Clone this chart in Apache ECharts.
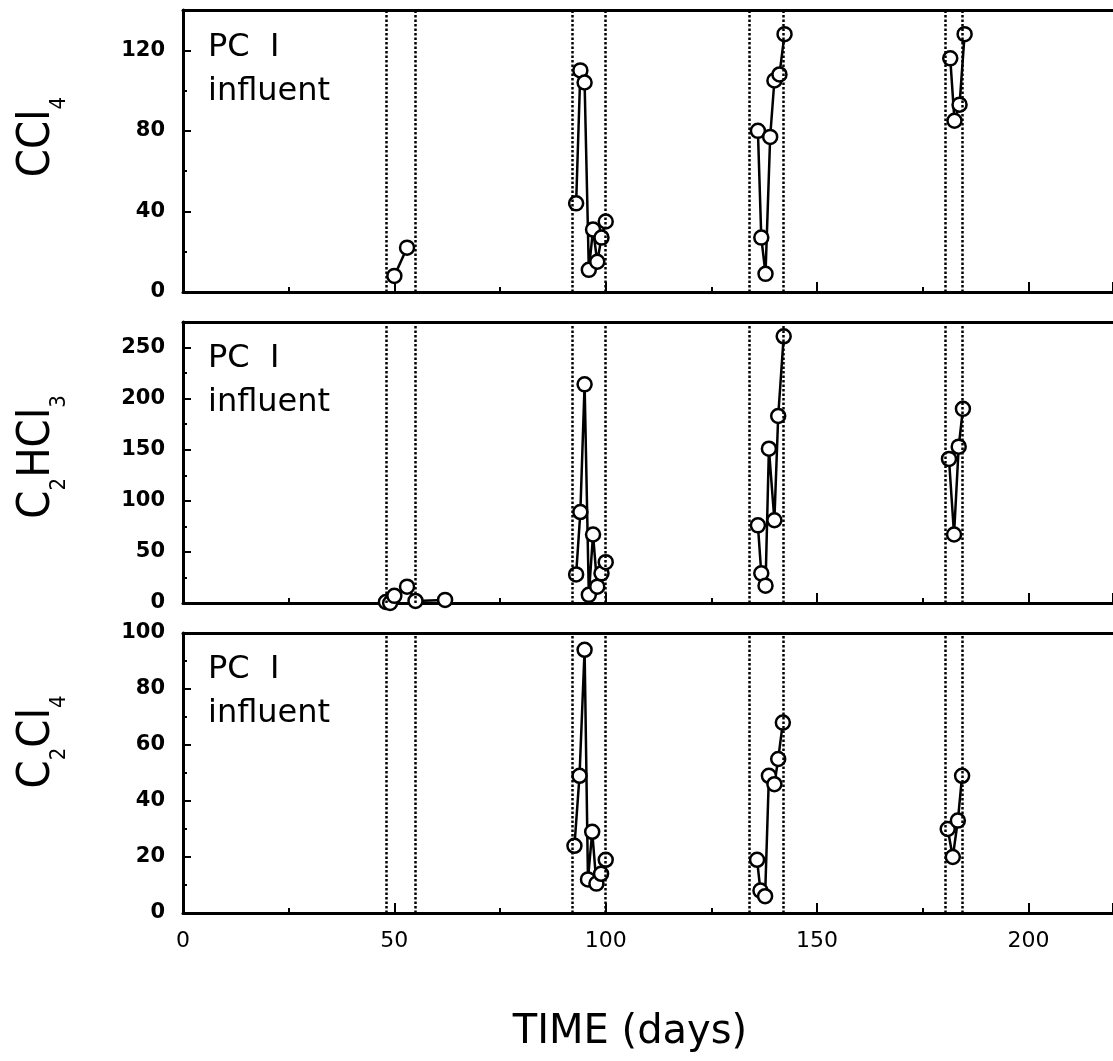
<!DOCTYPE html>
<html>
<head>
<meta charset="utf-8">
<title>PC I influent</title>
<script src="https://cdn.jsdelivr.net/npm/echarts@6/dist/echarts.min.js"></script>
<style>
html, body { margin: 0; padding: 0; background: #fff; }
#main { width: 1113px; height: 1061px; }
</style>
</head>
<body>
<div id="main"></div>
<script>
// sampling days and concentrations, null = break between sampling periods
var ccl4Days = [50, 53, null, 93, 94, 95, 96, 97, 98, 99, 100, null, 136, 136.8, 137.8, 138.9, 139.9, 141.1, 142.3, null, 181.5, 182.5, 183.7, 184.9];
var ccl4Vals = [8, 22, null, 44, 110, 104, 11, 31, 15, 27, 35, null, 80, 27, 9, 77, 105, 108, 128, null, 116, 85, 93, 128];

var tceDays = [48, 49, 50, 53, 55, 62, null, 93, 94, 95, 96, 97, 98, 99, 100, null, 136, 136.8, 137.8, 138.6, 139.9, 140.8, 142.1, null, 181.2, 182.4, 183.5, 184.5];
var tceVals = [1, 0, 7, 16, 2, 3, null, 28, 89, 214, 8, 67, 16, 29, 40, null, 76, 29, 17, 151, 81, 183, 261, null, 141, 67, 153, 190];

var pceDays = [92.6, 93.8, 95, 95.8, 96.8, 97.8, 98.9, 100, null, 135.8, 136.6, 137.7, 138.6, 139.9, 140.8, 141.9, null, 180.9, 182.1, 183.3, 184.3];
var pceVals = [24, 49, 94, 12, 29, 10.5, 14, 19, null, 19, 8, 6, 49, 46, 55, 68, null, 30, 20, 33, 49];

// dotted lines: start / end of each sampling period
var periodStart = [48, 92, 134, 180.3];
var periodEnd = [55, 100, 142, 184.3];

// axis ranges
var timeMax = 220;
var yMax = [140, 275, 100];
var yStep = [40, 50, 20];

var numFont = 'DejaVu Sans';
var narrowFont = "'Liberation Sans Narrow', 'DejaVu Sans Condensed', 'Liberation Sans', sans-serif";

function pairs(days, vals) {
	var out = [];
	for (var i = 0; i < days.length; i++) {
		if (days[i] === null) out.push('-');
		else out.push([days[i], vals[i]]);
	}
	return out;
}

var periodLines = periodStart.concat(periodEnd).map(function (d) { return { xAxis: d }; });

var chart = echarts.init(document.getElementById('main'));

var grids = [
	{ left: 183, width: 930, top: 10, height: 282 },
	{ left: 183, width: 930, top: 322, height: 281 },
	{ left: 183, width: 930, top: 633, height: 280 }
];

var xAxes = [];
var yAxes = [];
var series = [];
var panels = [pairs(ccl4Days, ccl4Vals), pairs(tceDays, tceVals), pairs(pceDays, pceVals)];

for (var g = 0; g < 3; g++) {
	// bottom axis with ticks
	xAxes.push({
		type: 'value', gridIndex: g, position: 'bottom',
		min: 0, max: timeMax, interval: 50,
		axisLine: { lineStyle: { color: '#000', width: 3 } },
		axisTick: { inside: true, length: 10, lineStyle: { color: '#000', width: 2 } },
		minorTick: { show: true, splitNumber: 2, length: 5, lineStyle: { color: '#000', width: 2 } },
		axisLabel: {
			show: g === 2, showMaxLabel: false, margin: 17,
			color: '#000', fontSize: 22, fontFamily: numFont
		},
		splitLine: { show: false }
	});
	// top frame line
	xAxes.push({
		type: 'value', gridIndex: g, position: 'top',
		min: 0, max: timeMax,
		axisLine: { lineStyle: { color: '#000', width: 3 } },
		axisTick: { show: false },
		axisLabel: { show: false },
		splitLine: { show: false }
	});
	yAxes.push({
		type: 'value', gridIndex: g,
		min: 0, max: yMax[g], interval: yStep[g],
		axisLine: { show: true, lineStyle: { color: '#000', width: 3 } },
		axisTick: { show: true, inside: true, length: 8, lineStyle: { color: '#000', width: 2 } },
		minorTick: { show: true, splitNumber: 2, length: 4, lineStyle: { color: '#000', width: 2 } },
		axisLabel: {
			showMaxLabel: g === 2, margin: 18,
			color: '#000', fontSize: 21, fontWeight: 'bold', fontFamily: numFont
		},
		splitLine: { show: false }
	});
	series.push({
		type: 'line',
		xAxisIndex: g * 2, yAxisIndex: g,
		data: panels[g],
		connectNulls: false,
		clip: false,
		symbol: 'circle',
		symbolSize: 14,
		itemStyle: { color: '#fff', borderColor: '#000', borderWidth: 2.5 },
		lineStyle: { color: '#000', width: 2.5 },
		markLine: {
			silent: true,
			symbol: ['none', 'none'],
			label: { show: false },
			lineStyle: { color: '#000', width: 2.5, type: [2.5, 2] },
			data: periodLines
		},
		z: 3
	});
}

function nameText(y, txt) {
	return {
		type: 'text', x: 37, y: y, rotation: Math.PI / 2,
		style: {
			text: txt,
			align: 'center', verticalAlign: 'middle',
			fill: '#000',
			rich: {
				m: { fontSize: 45, lineHeight: 45, verticalAlign: 'top', fontFamily: narrowFont, fill: '#000' },
				s: { fontSize: 22, lineHeight: 22, padding: [34, 0, 0, 0], verticalAlign: 'top', fontFamily: narrowFont, fill: '#000' }
			}
		}
	};
}

function pcText(top) {
	return {
		type: 'text', x: 208, y: top,
		style: {
			text: 'PC  I\ninfluent',
			fill: '#000',
			font: '32px DejaVu Sans',
			lineHeight: 44,
			align: 'left', verticalAlign: 'top'
		}
	};
}

chart.setOption({
	animation: false,
	backgroundColor: '#fff',
	grid: grids,
	xAxis: xAxes,
	yAxis: yAxes,
	series: series,
	graphic: [
		nameText(137, '{m|CCl}{s|4}'),
		nameText(457, '{m|C}{s|2}{m|HCl}{s|3}'),
		nameText(742, '{m|C}{s|2}{m|Cl}{s|4}'),
		pcText(26),
		pcText(337),
		pcText(648),
		{
			type: 'text', x: 630, y: 1033,
			style: {
				text: 'TIME (days)',
				fill: '#000',
				font: '40px DejaVu Sans',
				align: 'center', verticalAlign: 'middle'
			}
		}
	]
});
</script>
</body>
</html>
